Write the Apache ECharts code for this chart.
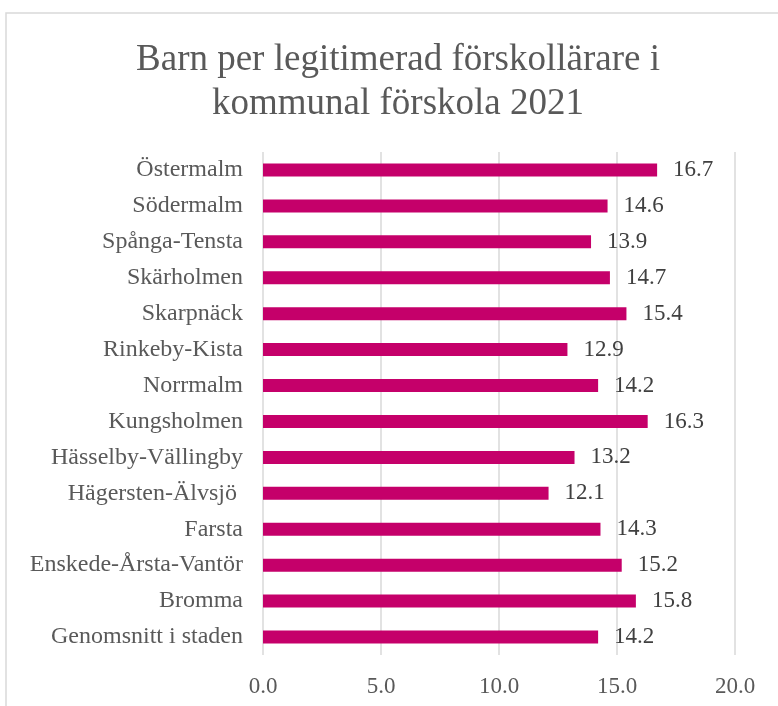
<!DOCTYPE html>
<html lang="sv">
<head>
    <meta charset="UTF-8">
    <title>Barn per legitimerad förskollärare</title>
    <script src="https://cdn.jsdelivr.net/npm/echarts@6/dist/echarts.min.js"></script>
    <style>
        html, body { margin: 0; padding: 0; background: #fff; }
        #chart { width: 778px; height: 706px; }
    </style>
</head>
<body>
<div id="chart"></div>
<script>
    var areas = ['Östermalm', 'Södermalm', 'Spånga-Tensta', 'Skärholmen', 'Skarpnäck',
        'Rinkeby-Kista', 'Norrmalm', 'Kungsholmen', 'Hässelby-Vällingby', 'Hägersten-Älvsjö ',
        'Farsta', 'Enskede-Årsta-Vantör', 'Bromma', 'Genomsnitt i staden'];
    var children = [16.7, 14.6, 13.9, 14.7, 15.4, 12.9, 14.2, 16.3, 13.2, 12.1, 14.3, 15.2, 15.8, 14.2];
    var xTicks = [0, 5, 10, 15, 20];

    var serif = '"Liberation Serif", "DejaVu Serif", serif';
    var chart = echarts.init(document.getElementById('chart'));
    var option = {
        animation: false,
        title: {
            text: 'Barn per legitimerad förskollärare i\nkommunal förskola 2021',
            left: 393,
            textAlign: 'center',
            top: 33,
            textStyle: {
                fontFamily: serif,
                fontSize: 37,
                fontWeight: 'normal',
                color: '#595959',
                lineHeight: 44
            }
        },
        graphic: [{
            type: 'rect',
            shape: { x: 6, y: 13, width: 820, height: 800 },
            style: { fill: 'none', stroke: '#d9d9d9', lineWidth: 1.5 },
            silent: true
        }],
        grid: { left: 263, right: 43, top: 152, bottom: 51 },
        xAxis: {
            type: 'value',
            min: xTicks[0],
            max: xTicks[xTicks.length - 1],
            interval: 5,
            axisLine: { show: false },
            axisTick: { show: false },
            splitLine: { lineStyle: { color: '#d9d9d9', width: 1.5 } },
            axisLabel: {
                fontFamily: serif,
                fontSize: 23,
                color: '#595959',
                margin: 20,
                formatter: function (v) { return v.toFixed(1); }
            }
        },
        yAxis: {
            type: 'category',
            data: areas,
            inverse: true,
            axisLine: { show: false },
            axisTick: { show: false },
            axisLabel: {
                fontFamily: serif,
                fontSize: 24,
                color: '#595959',
                margin: 20
            }
        },
        series: [{
            type: 'bar',
            data: children,
            barWidth: 13,
            itemStyle: { color: '#c5006a' },
            label: {
                show: true,
                position: 'right',
                distance: 16,
                fontFamily: serif,
                fontSize: 23,
                color: '#404040',
                formatter: function (p) { return p.value.toFixed(1); }
            }
        }]
    };
    chart.setOption(option);
</script>
</body>
</html>
